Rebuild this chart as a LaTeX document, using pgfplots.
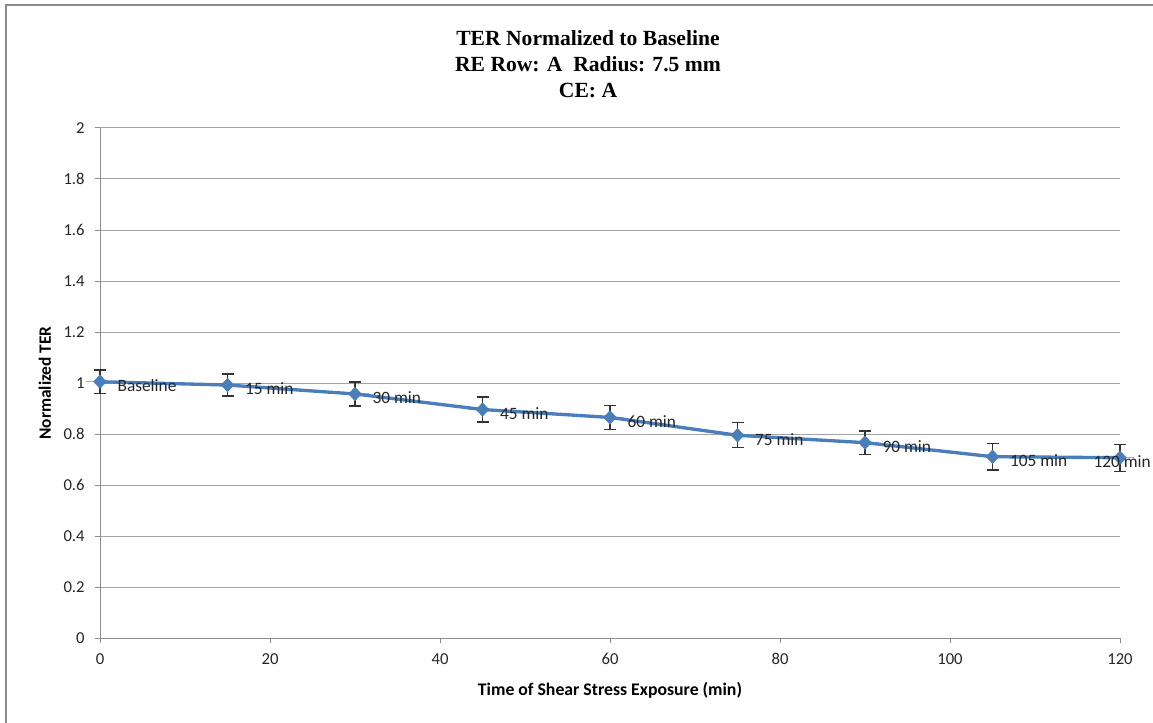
\documentclass[border=0pt]{standalone}
\usepackage{fontspec}
\setmainfont{Carlito}
\newfontfamily\titlefont{Liberation Serif}
\usepackage{pgfplots}
\pgfplotsset{compat=1.18}
\definecolor{exblue}{HTML}{4A7EBB}
\definecolor{axgray}{HTML}{8C8C8C}
\begin{document}
\begin{tikzpicture}
\path[use as bounding box] (0pt,0pt) rectangle (864.75pt,-542.25pt);
\draw[axgray, line width=1.5pt] (4.5pt,-542.25pt) -- (4.5pt,-3.75pt) -- (864.75pt,-3.75pt);
\node[align=center, font=\titlefont\bfseries\fontsize{16.2}{19.5}\selectfont, inner sep=0pt] at (441pt,-48pt)
  {TER Normalized to Baseline\\RE Row: A\ \ Radius: 7.5 mm\\CE: A};
\begin{axis}[
  at={(75pt,-478.5pt)}, anchor=south west,
  scale only axis, width=765pt, height=382.5pt,
  xmin=0, xmax=120, ymin=0, ymax=2,
  xtick={0,20,...,120}, ytick={0,0.2,...,2.01},
  axis lines=left, axis line style={axgray, line width=0.75pt, -},
  tick style={axgray, line width=0.75pt},
  tick align=outside, major tick length=4pt,
  ymajorgrids, grid style={axgray!80, line width=0.75pt},
  tick label style={font=\fontsize{12.5}{14}\selectfont, text=black!85},
  /pgf/number format/assume math mode=true,
  yticklabel style={xshift=-4pt},
  xticklabel style={yshift=-4pt},
  xlabel={\textbf{Time of Shear Stress Exposure (min)}},
  ylabel={\textbf{Normalized TER}},
  xlabel style={font=\fontsize{13.3}{15}\selectfont, at={(axis description cs:0.5,-0.102)}, anchor=center},
  ylabel style={font=\fontsize{13}{15}\selectfont, at={(axis description cs:-0.054,0.5)}, anchor=center},
  clip=false,
]
% x error bars (gray)
\addplot[draw=none, mark=none,
  error bars/.cd, x dir=both, x fixed=1.2,
  error bar style={axgray!70, line width=0.75pt},
  error mark options={axgray!70, line width=0.75pt, mark size=3pt}]
  coordinates {(0,1.005) (15,0.992) (30,0.957) (45,0.896) (60,0.865) (75,0.795) (90,0.766) (105,0.711) (120,0.707)};
% y error bars (black)
\addplot[draw=none, mark=none,
  error bars/.cd, y dir=both, y explicit,
  error bar style={black!80, line width=1pt},
  error mark options={black!80, line width=1pt, rotate=90, mark size=4.5pt}]
  coordinates {(0,1.005) +- (0,0.046) (15,0.992) +- (0,0.043) (30,0.957) +- (0,0.047)
               (45,0.896) +- (0,0.049) (60,0.865) +- (0,0.047) (75,0.795) +- (0,0.049)
               (90,0.766) +- (0,0.046) (105,0.711) +- (0,0.052) (120,0.707) +- (0,0.053)};
% line with markers
\addplot[exblue, line width=2.5pt, mark=diamond*, mark size=5pt,
  mark options={solid, fill=exblue, draw=exblue, line width=0.5pt, xscale=1.25}]
  coordinates {(0,1.005) (15,0.992) (30,0.957) (45,0.896) (60,0.865) (75,0.795) (90,0.766) (105,0.711) (120,0.707)};
% data labels
\addplot[draw=none, mark=none, point meta=explicit symbolic,
  nodes near coords, nodes near coords style={anchor=west, inner sep=0pt, xshift=13pt, yshift=-3pt,
    font=\fontsize{13}{14}\selectfont, text=black!85}]
  coordinates {(0,1.005) [Baseline] (15,0.992) [15 min] (30,0.957) [30 min] (45,0.896) [45 min]
               (60,0.865) [60 min] (75,0.795) [75 min] (90,0.766) [90 min] (105,0.711) [105 min]};
\addplot[draw=none, mark=none, point meta=explicit symbolic,
  nodes near coords, nodes near coords style={anchor=west, inner sep=0pt, xshift=-20pt, yshift=-3pt,
    font=\fontsize{13}{14}\selectfont, text=black!85}]
  coordinates {(120,0.707) [120 min]};
\end{axis}
\end{tikzpicture}
\end{document}
